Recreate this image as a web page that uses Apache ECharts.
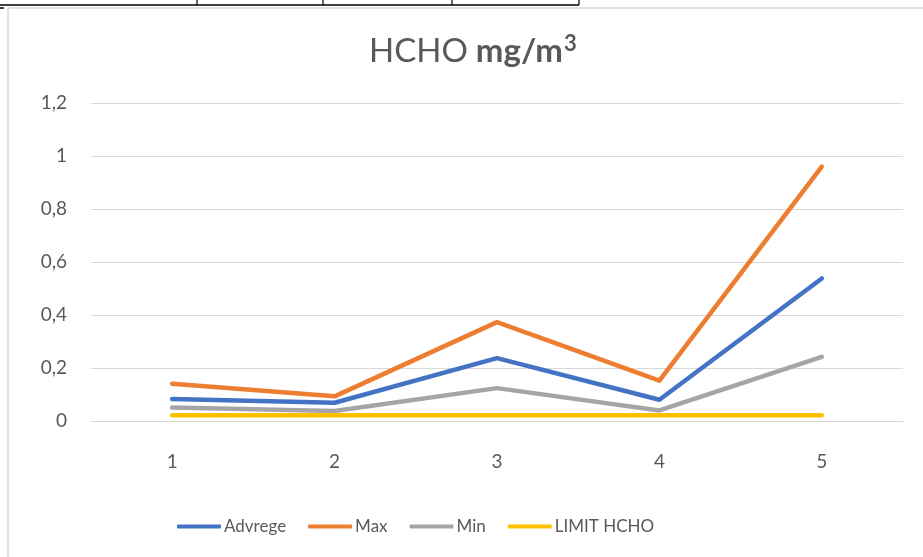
<!DOCTYPE html>
<html>
<head>
<meta charset="utf-8">
<script src="https://cdn.jsdelivr.net/npm/echarts@6/dist/echarts.min.js"></script>
<style>
html,body{margin:0;padding:0;background:#fff;}
#c{width:923px;height:557px;}
</style>
</head>
<body>
<div id="c"></div>
<script>
const categories = ['1', '2', '3', '4', '5'];
const advrege = [0.083, 0.069, 0.237, 0.080, 0.538];
const maxVals = [0.141, 0.093, 0.373, 0.152, 0.960];
const minVals = [0.051, 0.038, 0.124, 0.040, 0.242];
const limitHCHO = [0.022, 0.022, 0.022, 0.022, 0.022];
const seriesNames = ['Advrege', 'Max', 'Min', 'LIMIT HCHO'];
const yTicks = { min: 0, max: 1.2, interval: 0.2 };

const FONT = 'Lato, "Open Sans", sans-serif';
const chart = echarts.init(document.getElementById('c'), null, { renderer: 'canvas' });

function lineSeries(name, data, color) {
  return {
    name: name,
    type: 'line',
    data: data,
    showSymbol: false,
    symbol: 'none',
    lineStyle: { color: color, width: 4.5, cap: 'round', join: 'round' },
    itemStyle: { color: color },
    emphasis: { disabled: true }
  };
}

chart.setOption({
  backgroundColor: '#ffffff',
  animation: false,
  title: {
    text: '{n|HCHO} {b|mg/m}{s|3}',
    left: 364,
    top: 28,
    textStyle: {
      fontSize: 33,
      fontFamily: FONT,
      color: '#595959',
      rich: {
        n: { fontFamily: FONT, fontSize: 33, color: '#595959', fontWeight: 'normal' },
        b: { fontFamily: FONT, fontSize: 33, color: '#595959', fontWeight: 'bold' },
        s: { fontFamily: FONT, fontSize: 22, color: '#595959', fontWeight: 'bold', verticalAlign: 'top', padding: [0, 0, 14, 1] }
      }
    }
  },
  legend: {
    data: seriesNames,
    left: 172,
    top: 513,
    icon: 'roundRect',
    itemWidth: 44,
    itemHeight: 4,
    itemGap: 22,
    textStyle: { fontFamily: FONT, fontSize: 17, color: '#595959', padding: [0, 0, 0, -2] }
  },
  grid: { left: 91, right: 20, top: 103, bottom: 136, containLabel: false },
  xAxis: {
    type: 'category',
    data: categories,
    boundaryGap: true,
    axisLine: { show: true, lineStyle: { color: '#d9d9d9', width: 1 } },
    axisTick: { show: false },
    axisLabel: { fontFamily: FONT, fontSize: 19, color: '#595959', margin: 31 }
  },
  yAxis: {
    type: 'value',
    min: yTicks.min,
    max: yTicks.max,
    interval: yTicks.interval,
    axisLine: { show: false },
    axisTick: { show: false },
    splitLine: { lineStyle: { color: '#d9d9d9', width: 1 } },
    axisLabel: {
      fontFamily: FONT, fontSize: 19, color: '#595959', margin: 24,
      formatter: function (v) { return String(+v.toFixed(1)).replace('.', ','); }
    }
  },
  series: [
    lineSeries(seriesNames[0], advrege, '#4472C4'),
    lineSeries(seriesNames[1], maxVals, '#ED7D31'),
    lineSeries(seriesNames[2], minVals, '#A5A5A5'),
    lineSeries(seriesNames[3], limitHCHO, '#FFC000')
  ],
  graphic: [
    { type: 'line', shape: { x1: 0, y1: 5, x2: 579, y2: 5 }, style: { stroke: '#000', lineWidth: 1.5 } },
    { type: 'line', shape: { x1: 197, y1: 0, x2: 197, y2: 5 }, style: { stroke: '#000', lineWidth: 1.2 } },
    { type: 'line', shape: { x1: 323, y1: 0, x2: 323, y2: 5 }, style: { stroke: '#000', lineWidth: 1.2 } },
    { type: 'line', shape: { x1: 452, y1: 0, x2: 452, y2: 5 }, style: { stroke: '#000', lineWidth: 1.2 } },
    { type: 'line', shape: { x1: 579, y1: 0, x2: 579, y2: 5 }, style: { stroke: '#000', lineWidth: 1.2 } },
    { type: 'line', shape: { x1: 8, y1: 8, x2: 923, y2: 8 }, style: { stroke: '#d9d9d9', lineWidth: 1.5 } },
    { type: 'line', shape: { x1: 8, y1: 8, x2: 8, y2: 557 }, style: { stroke: '#d9d9d9', lineWidth: 1.5 } },
    { type: 'line', shape: { x1: 0, y1: 8, x2: 4, y2: 8 }, style: { stroke: '#000', lineWidth: 1.5 } }
  ]
});
</script>
</body>
</html>
